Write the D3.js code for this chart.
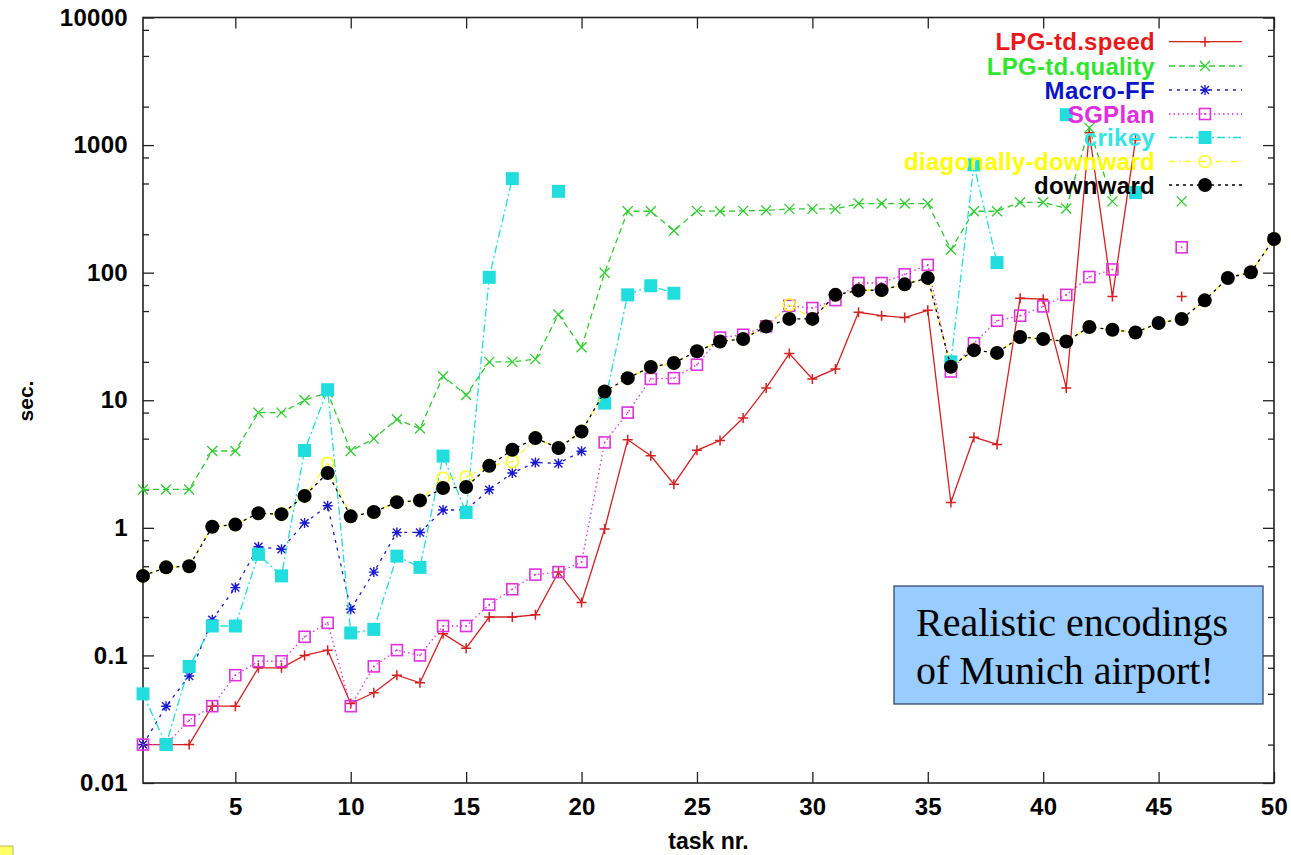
<!DOCTYPE html>
<html>
<head>
<meta charset="utf-8">
<script src="https://cdn.jsdelivr.net/npm/d3@7"></script>
<style>
  html, body { margin: 0; padding: 0; background: #ffffff; }
  svg { display: block; }
</style>
</head>
<body>
<svg id="chart" width="1291" height="855"></svg>
<script>
// ---------------- DATA ----------------
const tasks = d3.range(1, 51);

const lpgSpeed = [0.02,0.02,0.02,0.04,0.04,0.08,0.08,0.10,0.11,0.042,
  0.051,0.07,0.061,0.148,0.114,0.20,0.20,0.208,0.45,0.26,
  0.98,4.9,3.67,2.2,4.05,4.84,7.25,12.5,23.2,14.7,
  17.6,48.9,46,44.5,50.7,1.58,5.14,4.5,63,62,
  12.5,1250,65,1100,null,65,null,null,null,null];

const lpgQuality = [2,2,2,4,4,8,8,10,11.5,4,
  5,7.1,6,15.4,11,20,20,21,47,26,
  100,303,303,213,305,303,305,308,316,316,
  316,348,348,348,348,152,303,303,356,356,
  318,1364,362,null,null,362,null,null,null,null];

const macroFF = [0.02,0.04,0.069,0.19,0.34,0.71,0.68,1.09,1.49,0.23,
  0.45,0.92,0.92,1.38,1.38,1.99,2.69,3.25,3.2,3.98,
  null,null,null,null,null,null,null,null,null,null,
  null,null,null,null,null,null,null,null,null,null,
  null,null,null,null,null,null,null,null,null,null];

const sgPlan = [0.02,0.02,0.031,0.040,0.070,0.09,0.09,0.14,0.18,0.04,
  0.082,0.11,0.10,0.17,0.17,0.25,0.33,0.43,0.45,0.54,
  4.67,8.0,14.7,14.9,19,31,32.6,38,55,52.8,
  61,83,83,97,115,16.8,28,42,46,54.4,
  67,92.5,106,null,null,158,null,null,null,null];

const crikey = [0.05,0.02,0.082,0.17,0.17,0.62,0.42,4.04,12.1,0.15,
  0.16,0.60,0.49,3.65,1.32,92,546,null,434,null,
  9.5,67,79,69,null,null,null,null,null,null,
  null,null,null,null,null,20,700,120,null,null,
  1730,null,null,425,null,null,null,null,null,null];

const diagDownward = [0.42,0.49,0.50,1.02,1.06,1.30,1.28,1.78,3.2,1.23,
  1.33,1.59,1.64,2.45,2.5,3.06,3.3,5.05,4.22,5.69,
  11.7,14.9,18.2,19.6,24.2,28.9,30.2,37.9,56,43.4,
  67,72.6,73,81,91,18.3,24.7,23.5,31.3,30.2,
  28.9,37.5,35.7,34,40.3,43.3,60.7,90.8,100.7,183.7];

const downward = [0.42,0.49,0.50,1.02,1.06,1.30,1.28,1.78,2.69,1.23,
  1.33,1.59,1.64,2.05,2.09,3.06,4.09,5.05,4.22,5.69,
  11.7,14.9,18.2,19.6,24.2,28.9,30.2,37.9,43.4,43.4,
  67,72.6,73,81,91,18.3,24.7,23.5,31.3,30.2,
  28.9,37.5,35.7,34,40.3,43.3,60.7,90.8,100.7,183.7];

const seriesNames = ["LPG-td.speed","LPG-td.quality","Macro-FF","SGPlan","crikey","diagonally-downward","downward"];
const seriesValues = [lpgSpeed, lpgQuality, macroFF, sgPlan, crikey, diagDownward, downward];

const yMajorTicks = [0.01,0.1,1,10,100,1000,10000];
const yTickLabels = ["0.01","0.1","1","10","100","1000","10000"];
const yMinorFactors = [2,5,8];
const xTicks = [5,10,15,20,25,30,35,40,45,50];
const xLabel = "task nr.";
const yLabel = "sec.";
const noteLines = ["Realistic encodings","of Munich airport!"];

// ---------------- STYLES ----------------
const styles = [
  {line:"#d42020", text:"#e8191a", dash:null,        marker:"plus"},
  {line:"#2fcc2f", text:"#2ee62e", dash:"6,4",       marker:"cross"},
  {line:"#1a1acc", text:"#0a14c8", dash:"3,5",       marker:"star"},
  {line:"#dd33dd", text:"#e02ee0", dash:"1.5,3",     marker:"sqdot"},
  {line:"#22dddd", text:"#33e5e5", dash:"8,3,2,3",   marker:"fsquare"},
  {line:"#ffff22", text:"#ffff00", dash:"6,4,1.5,4", marker:"ocircle"},
  {line:"#000000", text:"#000000", dash:"3,4",       marker:"fcircle"}
];

const svg = d3.select("#chart");
const W = 1291, H = 855;
svg.append("rect").attr("width", W).attr("height", H).attr("fill", "#fff");

const pLeft = 143, pRight = 1274, pTop = 17.5, pBottom = 783;
const x = d3.scaleLinear().domain([1, 50]).range([pLeft, pRight]);
const y = d3.scaleLog().domain([0.01, 10000]).range([pBottom, pTop]);

const FONT = "'Liberation Sans', Arial, Helvetica, sans-serif";

// minor ticks
const minorTicks = [];
yMajorTicks.slice(0, -1).forEach(m => yMinorFactors.forEach(f => minorTicks.push(m * f)));

function styleAxis(g) {
  g.select(".domain").remove();
  g.selectAll(".tick line").attr("stroke", "#222").attr("stroke-width", 1.3);
  g.selectAll(".tick text").attr("font-family", FONT).attr("font-weight", "bold")
    .attr("font-size", 24).attr("fill", "#000").attr("letter-spacing", "0.3px");
}

// left axis
svg.append("g").attr("transform", `translate(${pLeft},0)`)
  .call(d3.axisLeft(y).tickValues(yMajorTicks)
    .tickFormat((d, i) => yTickLabels[i]).tickSizeInner(-11).tickSizeOuter(0).tickPadding(15))
  .call(styleAxis);
svg.append("g").attr("transform", `translate(${pLeft},0)`)
  .call(d3.axisLeft(y).tickValues(minorTicks).tickFormat("").tickSizeInner(-6).tickSizeOuter(0))
  .call(styleAxis);
// right axis (mirror)
svg.append("g").attr("transform", `translate(${pRight},0)`)
  .call(d3.axisRight(y).tickValues(yMajorTicks).tickFormat("").tickSizeInner(-11).tickSizeOuter(0))
  .call(styleAxis);
svg.append("g").attr("transform", `translate(${pRight},0)`)
  .call(d3.axisRight(y).tickValues(minorTicks).tickFormat("").tickSizeInner(-6).tickSizeOuter(0))
  .call(styleAxis);
// bottom axis
svg.append("g").attr("transform", `translate(0,${pBottom})`)
  .call(d3.axisBottom(x).tickValues(xTicks).tickFormat(d3.format("d"))
    .tickSizeInner(-11).tickSizeOuter(0).tickPadding(15))
  .call(styleAxis);
// top axis (mirror)
svg.append("g").attr("transform", `translate(0,${pTop})`)
  .call(d3.axisTop(x).tickValues(xTicks).tickFormat("").tickSizeInner(-11).tickSizeOuter(0))
  .call(styleAxis);

// border
svg.append("rect").attr("x", pLeft).attr("y", pTop)
  .attr("width", pRight - pLeft).attr("height", pBottom - pTop)
  .attr("fill", "none").attr("stroke", "#222").attr("stroke-width", 1.6);

// axis titles
svg.append("text").attr("x", (pLeft + pRight) / 2).attr("y", 849)
  .attr("text-anchor", "middle").attr("font-family", FONT).attr("font-weight", "bold")
  .attr("font-size", 23).text(xLabel);
svg.append("text").attr("transform", "translate(33,401) rotate(-90)")
  .attr("text-anchor", "middle").attr("font-family", FONT).attr("font-weight", "bold")
  .attr("font-size", 21).text(yLabel);

// markers
function drawMarker(g, type, cx, cy, color) {
  const s = 5;
  if (type === "plus") {
    g.append("path").attr("d", `M${cx - s},${cy}H${cx + s}M${cx},${cy - s}V${cy + s}`)
      .attr("stroke", color).attr("stroke-width", 1.5).attr("fill", "none");
  } else if (type === "cross") {
    g.append("path").attr("d", `M${cx - s},${cy - s}L${cx + s},${cy + s}M${cx - s},${cy + s}L${cx + s},${cy - s}`)
      .attr("stroke", color).attr("stroke-width", 1.3).attr("fill", "none");
  } else if (type === "star") {
    g.append("path").attr("d", `M${cx - s},${cy}H${cx + s}M${cx},${cy - s}V${cy + s}M${cx - 4},${cy - 4}L${cx + 4},${cy + 4}M${cx - 4},${cy + 4}L${cx + 4},${cy - 4}`)
      .attr("stroke", color).attr("stroke-width", 1.4).attr("fill", "none");
  } else if (type === "sqdot") {
    g.append("rect").attr("x", cx - 5.5).attr("y", cy - 5.5).attr("width", 11).attr("height", 11)
      .attr("fill", "none").attr("stroke", color).attr("stroke-width", 1.6);
    g.append("rect").attr("x", cx - 0.8).attr("y", cy - 0.8).attr("width", 1.6).attr("height", 1.6)
      .attr("fill", color);
  } else if (type === "fsquare") {
    g.append("rect").attr("x", cx - 6.5).attr("y", cy - 6.5).attr("width", 13).attr("height", 13)
      .attr("fill", color);
  } else if (type === "ocircle") {
    g.append("circle").attr("cx", cx).attr("cy", cy).attr("r", 6)
      .attr("fill", "none").attr("stroke", color).attr("stroke-width", 1.6);
  } else if (type === "fcircle") {
    g.append("circle").attr("cx", cx).attr("cy", cy).attr("r", 7).attr("fill", color);
  }
}

// series
const lineGen = d3.line().defined(d => d.v != null).x(d => x(d.t)).y(d => y(d.v));
seriesValues.forEach((vals, si) => {
  const st = styles[si];
  const data = tasks.map((t, i) => ({t: t, v: vals[i]}));
  const g = svg.append("g");
  g.append("path").datum(data).attr("d", lineGen)
    .attr("fill", "none").attr("stroke", st.line).attr("stroke-width", 1.3)
    .attr("stroke-dasharray", st.dash);
  data.filter(d => d.v != null).forEach(d => drawMarker(g, st.marker, x(d.t), y(d.v), st.line));
});

// legend
const legendRowsY = [41.7, 66, 90, 114, 137.5, 161.5, 185];
seriesNames.forEach((name, i) => {
  const st = styles[i];
  const yy = legendRowsY[i];
  const g = svg.append("g");
  g.append("text").attr("x", 1155).attr("y", yy).attr("dy", "0.36em")
    .attr("text-anchor", "end").attr("font-family", FONT).attr("font-weight", "bold")
    .attr("font-size", 24).attr("letter-spacing", "0.3px").attr("fill", st.text).text(name);
  g.append("line").attr("x1", 1169).attr("x2", 1242).attr("y1", yy).attr("y2", yy)
    .attr("stroke", st.line).attr("stroke-width", 1.3).attr("stroke-dasharray", st.dash);
  drawMarker(g, st.marker, 1205, yy, st.line);
});

// note box
svg.append("rect").attr("x", 894).attr("y", 586).attr("width", 369).attr("height", 118)
  .attr("fill", "#99ccff").attr("stroke", "#3a4a66").attr("stroke-width", 1.3);
noteLines.forEach((t, i) => {
  svg.append("text").attr("x", 916).attr("y", 636 + i * 48)
    .attr("font-family", "'Liberation Serif', 'Times New Roman', serif")
    .attr("font-size", 40).attr("fill", "#000").text(t);
});

// small yellow slide element bottom-left
svg.append("rect").attr("x", -1).attr("y", 846).attr("width", 14).attr("height", 12)
  .attr("fill", "#ffff66").attr("stroke", "#b8b860").attr("stroke-width", 1);
</script>
</body>
</html>
